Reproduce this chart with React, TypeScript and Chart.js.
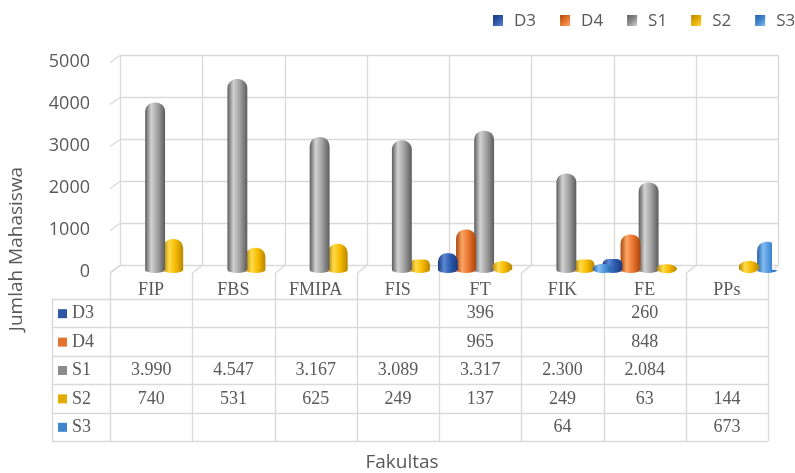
import React, { useEffect, useRef } from 'react';
import { Chart, registerables } from 'chart.js';

Chart.register(...registerables);

const categories = ['FIP', 'FBS', 'FMIPA', 'FIS', 'FT', 'FIK', 'FE', 'PPs'];
const seriesNames = ['D3', 'D4', 'S1', 'S2', 'S3'];
const d3Values = [null, null, null, null, 396, null, 260, null];
const d4Values = [null, null, null, null, 965, null, 848, null];
const s1Values = [3990, 4547, 3167, 3089, 3317, 2300, 2084, null];
const s2Values = [740, 531, 625, 249, 137, 249, 63, 144];
const s3Values = [null, null, null, null, null, 64, null, 673];
const yTicks = [0, 1000, 2000, 3000, 4000, 5000];
const yTitle = 'Jumlah Mahasiswa';
const xTitle = 'Fakultas';

const palette = [
  { edge: '#1b3a7a', light: '#5b87d2', mid: '#2c5bb0', key: '#2c56a6' },
  { edge: '#a9460e', light: '#fba564', mid: '#ea7530', key: '#e3742f' },
  { edge: '#5c5c5c', light: '#d2d2d2', mid: '#a2a2a2', key: '#8c8c8c' },
  { edge: '#b98600', light: '#ffdb4a', mid: '#f6bb00', key: '#e2ad00' },
  { edge: '#245fa6', light: '#82bdf2', mid: '#4b93da', key: '#3f86cc' },
];

const SANS = '"Open Sans", sans-serif';
const SERIF = '"Liberation Serif", "Times New Roman", serif';
const TEXT = '#595959';
const LINE = '#d9d9d9';

const fmt = (v: number | null) =>
  v == null ? '' : String(v).replace(/\B(?=(\d{3})+(?!\d))/g, '.');

function geometry(chart: any) {
  const a = chart.chartArea;
  const n = categories.length;
  const colW = (a.right - a.left) / n;
  const tLeft = a.left - 4;
  return { a, n, colW, tLeft, tRight: tLeft + n * colW, backL: tLeft + 10 };
}

function makeGrad(ctx: CanvasRenderingContext2D, cx: number, w: number, p: any) {
  const g = ctx.createLinearGradient(cx - w / 2, 0, cx + w / 2, 0);
  g.addColorStop(0, p.edge);
  g.addColorStop(0.3, p.light);
  g.addColorStop(0.62, p.mid);
  g.addColorStop(1, p.edge);
  return g;
}

const decorPlugin = {
  id: 'decor',
  beforeDatasetsDraw(chart: any) {
    const { ctx, scales } = chart;
    const y = scales.y;
    const { n, colW, tLeft, backL, a } = geometry(chart);
    const backR = backL + n * colW;
    const shift = -5;
    const floorFront = a.bottom + 3;
    ctx.save();
    ctx.strokeStyle = LINE;
    ctx.lineWidth = 1.4;
    yTicks.forEach((v) => {
      const py = Math.round(y.getPixelForValue(v) + shift) + 0.5;
      ctx.beginPath();
      ctx.moveTo(backL, py);
      ctx.lineTo(backR, py);
      ctx.stroke();
      ctx.beginPath();
      ctx.moveTo(tLeft, py + 7);
      ctx.lineTo(backL, py);
      ctx.stroke();
    });
    const top = y.getPixelForValue(yTicks[yTicks.length - 1]) + shift;
    const bot = y.getPixelForValue(0) + shift;
    for (let i = 0; i <= n; i++) {
      const bx = Math.round(backL + i * colW) + 0.5;
      ctx.beginPath();
      ctx.moveTo(bx, top);
      ctx.lineTo(bx, bot);
      ctx.stroke();
      const fx = Math.round(tLeft + i * colW) + 0.5;
      ctx.beginPath();
      ctx.moveTo(fx, floorFront);
      ctx.lineTo(bx, bot);
      ctx.stroke();
    }
    ctx.restore();

    chart.data.datasets.forEach((ds: any, di: number) => {
      const meta = chart.getDatasetMeta(di);
      meta.data.forEach((el: any, i: number) => {
        if (ds.data[i] == null) return;
        const g = makeGrad(ctx, el.x, el.width, palette[di]);
        el.options = Object.assign({}, el.options, { backgroundColor: g });
      });
    });
  },
  afterDatasetsDraw(chart: any) {
    const { ctx } = chart;
    ctx.save();
    chart.data.datasets.forEach((ds: any, di: number) => {
      const meta = chart.getDatasetMeta(di);
      meta.data.forEach((el: any, i: number) => {
        if (ds.data[i] == null) return;
        const h = el.base - el.y;
        ctx.fillStyle = makeGrad(ctx, el.x, el.width, palette[di]);
        ctx.beginPath();
        if (h < 9) {
          ctx.ellipse(el.x, (el.y + el.base) / 2, el.width / 2, h / 2 + 3.2, 0, 0, Math.PI * 2);
        } else {
          ctx.ellipse(el.x, el.base, el.width / 2, 3, 0, 0, Math.PI);
        }
        ctx.fill();
      });
    });
    ctx.restore();
  },
  afterDraw(chart: any) {
    const { ctx } = chart;
    const { n, colW, tLeft, tRight, a } = geometry(chart);
    const datasets = chart.data.datasets;
    const headTop = a.bottom + 3;
    const rowTop = 299;
    const rowH = 28.4;
    const labelLeft = 52;
    const tBottom = rowTop + datasets.length * rowH;

    ctx.save();
    ctx.strokeStyle = LINE;
    ctx.lineWidth = 1.4;
    for (let r = 0; r <= datasets.length; r++) {
      const py = Math.round(rowTop + r * rowH) + 0.5;
      ctx.beginPath();
      ctx.moveTo(labelLeft, py);
      ctx.lineTo(tRight, py);
      ctx.stroke();
    }
    for (let i = 0; i <= n; i++) {
      const px = Math.round(tLeft + i * colW) + 0.5;
      ctx.beginPath();
      ctx.moveTo(px, headTop);
      ctx.lineTo(px, tBottom);
      ctx.stroke();
    }
    ctx.beginPath();
    ctx.moveTo(labelLeft + 0.5, rowTop);
    ctx.lineTo(labelLeft + 0.5, tBottom);
    ctx.stroke();

    ctx.fillStyle = TEXT;
    ctx.font = `18px ${SERIF}`;
    ctx.textAlign = 'center';
    ctx.textBaseline = 'middle';
    chart.data.labels.forEach((lab: string, i: number) => {
      ctx.fillText(lab, tLeft + (i + 0.5) * colW, 290);
    });
    datasets.forEach((ds: any, r: number) => {
      const cy = rowTop + (r + 0.5) * rowH + 0.5;
      ctx.fillStyle = palette[r].key;
      ctx.fillRect(58, cy - 4.5, 9, 9);
      ctx.fillStyle = TEXT;
      ctx.textAlign = 'left';
      ctx.fillText(ds.label, 72, cy);
      ctx.textAlign = 'center';
      ds.data.forEach((v: number | null, i: number) => {
        if (v == null) return;
        ctx.fillText(fmt(v), tLeft + (i + 0.5) * colW, cy);
      });
    });

    // axis titles
    ctx.font = `19px ${SANS}`;
    ctx.fillStyle = TEXT;
    ctx.textAlign = 'center';
    ctx.textBaseline = 'middle';
    ctx.fillText(xTitle, 402, 463);
    ctx.save();
    ctx.translate(17, 249);
    ctx.rotate(-Math.PI / 2);
    ctx.fillText(yTitle, 0, 0);
    ctx.restore();

    // legend
    ctx.font = `17px ${SANS}`;
    ctx.textAlign = 'left';
    let lx = 493;
    datasets.forEach((ds: any, i: number) => {
      const g = ctx.createLinearGradient(lx, 15, lx + 10, 26);
      g.addColorStop(0, palette[i].edge);
      g.addColorStop(0.5, palette[i].key);
      g.addColorStop(1, palette[i].light);
      ctx.fillStyle = g;
      ctx.fillRect(lx, 15, 10, 11);
      ctx.fillStyle = TEXT;
      ctx.fillText(ds.label, lx + 21, 21);
      lx += 21 + ctx.measureText(ds.label).width + 24;
    });
    ctx.restore();
  },
};

export default function App() {
  const ref = useRef<HTMLCanvasElement | null>(null);
  useEffect(() => {
    if (!ref.current) return;
    const seriesData = [d3Values, d4Values, s1Values, s2Values, s3Values];
    const chart = new Chart(ref.current, {
      type: 'bar',
      data: {
        labels: categories,
        datasets: seriesNames.map((name, i) => ({
          label: name,
          data: seriesData[i],
          backgroundColor: palette[i].mid,
          borderWidth: 0,
          borderRadius: 9,
          borderSkipped: 'start',
          categoryPercentage: 1.1,
          barPercentage: 1.1,
        })),
      },
      options: {
        responsive: false,
        animation: false,
        devicePixelRatio: 1,
        layout: { padding: { left: 0, right: 23, top: 60, bottom: 203 } },
        plugins: { legend: { display: false }, tooltip: { enabled: false }, title: { display: false } },
        scales: {
          x: { display: false, grid: { display: false } },
          y: {
            min: 0,
            max: 5000,
            afterFit: (s: any) => {
              s.width = 114;
            },
            ticks: {
              stepSize: 1000,
              padding: 24,
              labelOffset: 2,
              color: TEXT,
              font: { family: SANS, size: 18 },
              callback: (v: any) => String(v),
            },
            grid: { display: false, drawTicks: false },
            border: { display: false },
          },
        },
      },
      plugins: [decorPlugin],
    } as any);
    return () => chart.destroy();
  }, []);
  return (
    <div style={{ position: 'absolute', left: 0, top: 0, width: 795, height: 473, background: '#fff' }}>
      <canvas ref={ref} width={795} height={473} style={{ display: 'block', width: 795, height: 473 }} />
    </div>
  );
}
